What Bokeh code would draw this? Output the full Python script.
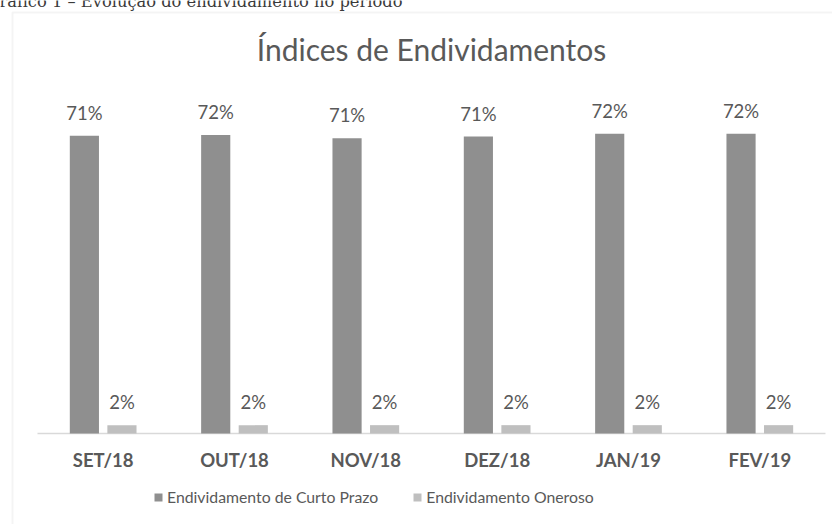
from bokeh.plotting import figure
from bokeh.models import (ColumnDataSource, Range1d, Label, Legend, LegendItem,
                          BoxAnnotation)
from bokeh.embed import file_html
from bokeh.resources import INLINE
from bokeh.core.properties import value

categories = ["SET/18", "OUT/18", "NOV/18", "DEZ/18", "JAN/19", "FEV/19"]
curto_prazo = [71.4, 71.6, 70.8, 71.2, 71.9, 71.9]
oneroso = [2.0, 2.0, 2.0, 2.0, 2.0, 2.0]
curto_labels = ["71%", "72%", "71%", "71%", "72%", "72%"]
oneroso_labels = ["2%", "2%", "2%", "2%", "2%", "2%"]
series_names = ["Endividamento de Curto Prazo", "Endividamento Oneroso"]
title_text = "Índices de Endividamentos"
caption_text = "Gráfico 1 – Evolução do endividamento no período"

DARK = "#8f8f8f"
LIGHT = "#bfbfbf"
TXT = "#595959"

# layout (pixels)
W, H = 832, 524
AX_LEFT, AX_Y = 37.0, 433.0      # axis line start, axis line y
CAT_W = 131.33                   # pixels per category
PX_PER_UNIT = 4.17               # pixels per percent
OFF = 0.143                      # dodge of each series
BAR_W = 0.222

n = len(categories)
centers = [i + 0.5 for i in range(n)]
x_dark = [c - OFF for c in centers]
x_light = [c + OFF for c in centers]

src = ColumnDataSource(dict(xd=x_dark, xl=x_light, curto=curto_prazo, oner=oneroso,
                            cl=curto_labels, ol=oneroso_labels))
cat_src = ColumnDataSource(dict(x=centers, y=[0] * n, t=categories))

x0 = -AX_LEFT / CAT_W
y0 = -(H - AX_Y) / PX_PER_UNIT
p = figure(x_range=Range1d(x0, x0 + W / CAT_W),
           y_range=Range1d(y0, y0 + H / PX_PER_UNIT),
           width=W, height=H, output_backend="svg", toolbar_location=None,
           x_axis_location=None, y_axis_location=None,
           min_border=0, min_border_left=0, min_border_right=0,
           min_border_top=0, min_border_bottom=0)
p.background_fill_color = "white"
p.border_fill_color = "white"
p.outline_line_color = None
p.grid.visible = False

# chart area border
p.add_layout(BoxAnnotation(left=12, right=2000, top=H - 12, bottom=-50,
                           left_units="screen", right_units="screen",
                           top_units="screen", bottom_units="screen",
                           fill_alpha=0, fill_color=None, line_color="#d9d9d9",
                           line_width=2, level="underlay"))

# axis line
p.segment(x0=[0], x1=[n], y0=[0], y1=[0], line_color="#d9d9d9", line_width=1.5)

r1 = p.vbar(x="xd", top="curto", width=BAR_W, source=src,
            fill_color=DARK, line_color=None)
r2 = p.vbar(x="xl", top="oner", width=BAR_W, source=src,
            fill_color=LIGHT, line_color=None)

p.text(x="xd", y="curto", text="cl", y_offset=-23, text_align="center",
       text_baseline="alphabetic", text_font=value("Lato"),
       text_font_size="18.5px", text_color=TXT, source=src)
p.text(x="xl", y="oner", text="ol", y_offset=-23, text_align="center",
       text_baseline="alphabetic", text_font=value("Lato"),
       text_font_size="18.5px", text_color=TXT, source=src)

# category labels
p.text(x="x", y="y", text="t", y_offset=26, text_align="center",
       text_baseline="alphabetic", text_font=value("Lato"),
       text_font_style="bold", text_font_size="18.5px", text_color=TXT,
       source=cat_src)

legend = Legend(items=[LegendItem(label=series_names[0], renderers=[r1]),
                       LegendItem(label=series_names[1], renderers=[r2])],
                orientation="horizontal", location=(153, H - 506),
                glyph_width=10, glyph_height=10, label_standoff=4, spacing=34,
                padding=0, margin=0, border_line_color=None,
                background_fill_alpha=0, label_text_font="Lato",
                label_text_font_size="15.8px", label_text_color=TXT)
p.add_layout(legend)

p.add_layout(Label(x=431, y=H - 48, x_units="screen", y_units="screen",
                   text=title_text, text_align="center", text_baseline="alphabetic",
                   text_font="Lato", text_font_size="30px", text_color=TXT))
p.add_layout(Label(x=-14, y=H - 1, x_units="screen", y_units="screen",
                   text=caption_text, text_align="left", text_baseline="alphabetic",
                   text_font="DejaVu Serif", text_font_size="16.3px",
                   text_color="#3a3a3a"))

open("out.html", "w").write(file_html(p, INLINE))
